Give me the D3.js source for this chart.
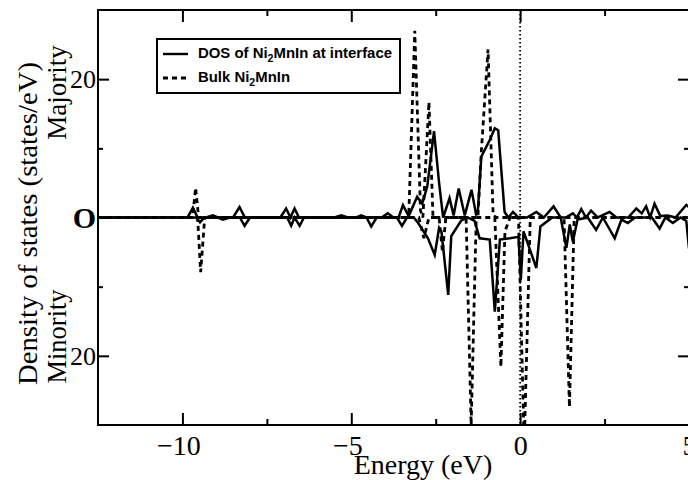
<!DOCTYPE html>
<html><head><meta charset="utf-8">
<script src="https://cdn.jsdelivr.net/npm/d3@7"></script>
<style>body{margin:0;background:#fff}svg{display:block}</style>
</head><body><svg id="c" width="688" height="480"></svg>
<script>
// ---- data (energy in eV, DOS in states/eV; minority stored as magnitudes, drawn downward)
const ifMajE = [-12.5,-9.85,-9.69,-9.55,-9.3,-9.1,-8.95,-8.5,-8.31,-8.15,-7.1,-6.93,-6.8,-6.68,-6.55,-5.5,-5.3,-5.1,-4.85,-4.71,-4.55,-4.1,-3.92,-3.75,-3.6,-3.47,-3.3,-3.05,-2.9,-2.75,-2.55,-2.4,-2.28,-2.09,-1.97,-1.82,-1.64,-1.44,-1.3,-1.25,-1.15,-0.9,-0.75,-0.65,-0.46,-0.35,-0.21,-0.05,0.2,0.48,0.7,0.99,1.2,1.35,1.56,1.68,1.81,1.95,2.1,2.3,2.65,2.85,3.2,3.44,3.6,3.73,3.85,3.98,4.15,4.37,4.6,4.92,5.0];
const ifMajV = [0,0,1.4,0,0,0.3,0,0,1.5,0,0,1.3,0,1.3,0,0,0.3,0,0,0.3,0,0,0.6,0,0,1.8,0.2,3.0,2.0,4.5,12.5,5.0,0,2.8,0.3,4.2,0.3,4.0,0.3,1.1,8.8,11.2,12.9,12.6,0.8,0,0.8,0,0,0.8,0,1.6,0,0,0.6,0,1.2,0,1.0,0,0.8,0,0,1.3,0.6,1.6,0,2.0,0.2,0.3,0,1.8,1.5];
const ifMinE = [-12.5,-9.6,-9.48,-9.35,-8.95,-8.8,-8.6,-8.3,-8.16,-8.0,-6.9,-6.78,-6.68,-6.53,-6.4,-4.55,-4.41,-4.25,-3.65,-3.5,-3.35,-3.15,-3.02,-2.73,-2.53,-2.4,-2.33,-2.13,-2.04,-1.74,-1.55,-1.35,-1.2,-0.9,-0.75,-0.6,-0.3,-0.05,0.02,0.1,0.48,0.6,0.95,1.2,1.37,1.47,1.56,1.7,2.0,2.25,2.45,2.8,3.0,3.19,3.4,3.9,4.13,4.3,4.52,4.75,4.92,5.0];
const ifMinV = [0,0,0.7,0,0,0.3,0,0,1.2,0,0,1.2,0,1.2,0,0,1.3,0,0,1.2,0,0,0.8,3.0,5.4,1.5,2.0,11.2,2.7,0.4,0,0.5,3.0,3.2,13.6,3.2,3.0,2.8,9.0,2.0,7.3,1.3,0,0,4.4,1.0,3.5,0.3,0,1.8,0,3.0,0.3,0.8,0,0,1.6,0,0.8,0,0.5,4.5];
const bulkMajE = [-12.5,-9.7,-9.61,-9.52,-3.3,-3.12,-2.95,-2.88,-2.7,-2.58,-1.25,-1.15,-0.95,-0.8,-0.7,5.0];
const bulkMajV = [0,0,4.3,0,0,27,1.0,0,16.7,0,0,9.5,24.3,0.3,0,0];
const bulkMinE = [-12.5,-9.55,-9.46,-9.34,-3.0,-2.85,-2.7,-2.4,-2.3,-2.2,-1.6,-1.45,-1.3,-0.75,-0.57,-0.45,-0.3,-0.05,0.12,0.3,1.3,1.46,1.6,5.0];
const bulkMinV = [0,0,7.9,0,0,3.0,0,0,5.0,0,0,30,0,0,21.6,2.0,0,0,33,0,0,27.4,0,0];

const xTicks = [-10,-5,0,5];
const xTickLabels = ["\u221210","\u22125","0","5"];
const xMinor = [-7.5,-2.5,2.5];
const yTicks = [20,0,-20];
const yTickLabels = ["20","O","20"];
const yMinor = [10,-10];
const legendLabels = [["DOS of Ni","2","MnIn at interface"],["Bulk Ni","2","MnIn"]];

// ---- drawing
const svg = d3.select("#c");
const L=98, R=689, T=10, B=425;
const x = d3.scaleLinear().domain([-12.5,5]).range([L,R]);
const y = d3.scaleLinear().domain([-30,30]).range([B,T]);
const serif = "'Liberation Serif','Times New Roman',serif";

svg.append("clipPath").attr("id","clip").append("rect")
  .attr("x",L).attr("y",T).attr("width",R-L).attr("height",B-T);

const g = svg.append("g").attr("clip-path","url(#clip)");
const line = d3.line().x(d=>x(d[0])).y(d=>y(d[1]));

// dotted Fermi level
g.append("line").attr("x1",x(0)).attr("x2",x(0)).attr("y1",T).attr("y2",B)
  .attr("stroke","#000").attr("stroke-width",1.8).attr("stroke-dasharray","1.6,2.4");

function series(E,V,sign){ return E.map((e,i)=>[e,sign*V[i]]); }
const solid = {stroke:"#000","stroke-width":2.5,fill:"none","stroke-linejoin":"miter"};
const dashed = {stroke:"#000","stroke-width":2.8,fill:"none","stroke-dasharray":"5,4"};
function draw(data,st){ const p=g.append("path").attr("d",line(data)); for(const k in st) p.attr(k,st[k]); }
draw(series(ifMajE,ifMajV,1),solid);
draw(series(ifMinE,ifMinV,-1),solid);
draw(series(bulkMajE,bulkMajV,1),dashed);
draw(series(bulkMinE,bulkMinV,-1),dashed);

// axes
function styleAxis(sel){ sel.select(".domain").remove(); sel.selectAll("line").attr("stroke","#000").attr("stroke-width",2); }
const ax = svg.append("g").attr("transform",`translate(0,${B})`)
  .call(d3.axisBottom(x).tickValues(xTicks).tickSize(-12).tickSizeOuter(0).tickPadding(10).tickFormat((d,i)=>xTickLabels[i]));
styleAxis(ax);
ax.selectAll("text").attr("font-family",serif).attr("font-size",28).attr("fill","#000")
  .attr("dx",d=>d<0?-4:0);
svg.append("g").attr("transform",`translate(0,${B})`)
  .call(d3.axisBottom(x).tickValues(xMinor).tickSize(-6).tickSizeOuter(0).tickFormat("")).call(styleAxis);
svg.append("g").attr("transform",`translate(0,${T})`)
  .call(d3.axisTop(x).tickValues(xTicks).tickSize(-12).tickSizeOuter(0).tickFormat("")).call(styleAxis);
svg.append("g").attr("transform",`translate(0,${T})`)
  .call(d3.axisTop(x).tickValues(xMinor).tickSize(-6).tickSizeOuter(0).tickFormat("")).call(styleAxis);

const ay = svg.append("g").attr("transform",`translate(${L},0)`)
  .call(d3.axisLeft(y).tickValues(yTicks).tickSize(-11).tickSizeOuter(0).tickPadding(2).tickFormat((d,i)=>yTickLabels[i]));
styleAxis(ay);
ay.selectAll("text").attr("font-family",serif).attr("font-size",26).attr("fill","#000")
  .filter(d=>d===0).attr("font-weight","bold").attr("font-size",30).attr("dy","0.34em");
svg.append("g").attr("transform",`translate(${L},0)`)
  .call(d3.axisLeft(y).tickValues(yMinor).tickSize(-5).tickSizeOuter(0).tickFormat("")).call(styleAxis);
svg.append("g").attr("transform",`translate(${R},0)`)
  .call(d3.axisRight(y).tickValues(yTicks).tickSize(-11).tickSizeOuter(0).tickFormat("")).call(styleAxis);
svg.append("g").attr("transform",`translate(${R},0)`)
  .call(d3.axisRight(y).tickValues(yMinor).tickSize(-5).tickSizeOuter(0).tickFormat("")).call(styleAxis);

// frame
svg.append("rect").attr("x",L).attr("y",T).attr("width",R-L).attr("height",B-T)
  .attr("fill","none").attr("stroke","#000").attr("stroke-width",2);

// axis titles
svg.append("text").attr("x",423).attr("y",474).attr("text-anchor","middle")
  .attr("font-family",serif).attr("font-size",28).text("Energy (eV)");
svg.append("text").attr("transform","translate(37,223.5) rotate(-90)").attr("text-anchor","middle")
  .attr("font-family",serif).attr("font-size",28).attr("textLength",323).attr("lengthAdjust","spacingAndGlyphs")
  .text("Density of states (states/eV)");
svg.append("text").attr("transform","translate(66,92.5) rotate(-90)").attr("text-anchor","middle")
  .attr("font-family",serif).attr("font-size",27).text("Majority");
svg.append("text").attr("transform","translate(66,336.5) rotate(-90)").attr("text-anchor","middle")
  .attr("font-family",serif).attr("font-size",26.5).text("Minority");

// legend
const lg = svg.append("g");
lg.append("rect").attr("x",157).attr("y",39).attr("width",243).attr("height",54)
  .attr("fill","#fff").attr("stroke","#000").attr("stroke-width",2);
const rows = [{y:54,dash:null,len:194},{y:78,dash:"5,4",len:92}];
rows.forEach((r,i)=>{
  const ln = lg.append("line").attr("x1",163).attr("x2",188).attr("y1",r.y).attr("y2",r.y)
    .attr("stroke","#000").attr("stroke-width",2.4);
  if(r.dash) ln.attr("stroke-dasharray",r.dash).attr("stroke-width",2.8);
  const t = lg.append("text").attr("x",198).attr("y",r.y+4)
    .attr("font-family","'Liberation Sans',Arial,sans-serif").attr("font-weight","bold").attr("font-size",14)
    .attr("textLength",r.len).attr("lengthAdjust","spacingAndGlyphs");
  t.append("tspan").text(legendLabels[i][0]);
  t.append("tspan").attr("font-size",10).attr("dy",4).text(legendLabels[i][1]);
  t.append("tspan").attr("dy",-4).text(legendLabels[i][2]);
});
</script></body></html>
